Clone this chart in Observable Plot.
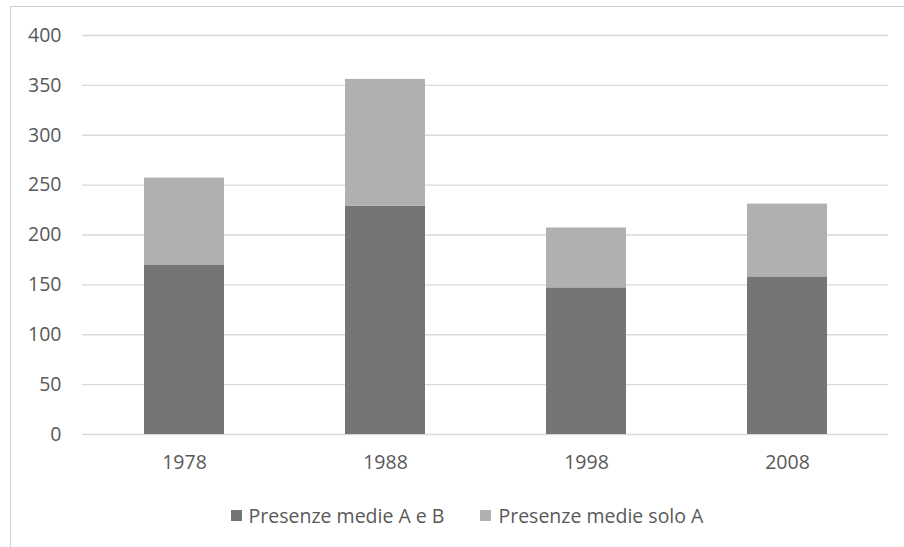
<!DOCTYPE html>
<html>
<head>
<meta charset="utf-8">
<script src="https://cdn.jsdelivr.net/npm/d3@7"></script>
<script src="https://cdn.jsdelivr.net/npm/@observablehq/plot@0.6"></script>
<style>
  html, body { margin: 0; padding: 0; background: #fff; width: 904px; height: 547px; overflow: hidden; }
  #frame { position: absolute; left: 10px; top: 6px; width: 1000px; height: 700px;
           border-left: 1.5px solid #cfcfcf; border-top: 1.5px solid #cfcfcf; }
  #chart { position: absolute; left: 0; top: 0; }
  #legend { position: absolute; left: 0; top: 502px; width: 904px; display: flex; justify-content: center;
            font-family: "Open Sans", sans-serif; font-size: 19.5px; color: #595959; padding-left: 30px; box-sizing: border-box; }
  .item { display: flex; align-items: center; margin: 0 18px; }
  .sw { width: 11px; height: 11px; margin-right: 7px; }
</style>
</head>
<body>
<div id="frame"></div>
<div id="chart"></div>
<div id="legend"></div>
<script>
const years = ["1978", "1988", "1998", "2008"];
const seriesNames = ["Presenze medie A e B", "Presenze medie solo A"];
const valuesAB = [170, 229, 147, 158];
const valuesSoloA = [87, 127, 60, 73];
const yTicks = [0, 50, 100, 150, 200, 250, 300, 350, 400];
const colors = ["#757575", "#b0b0b0"];

const data = years.flatMap((year, i) => [
  {year, serie: seriesNames[0], value: valuesAB[i]},
  {year, serie: seriesNames[1], value: valuesSoloA[i]}
]);

const chart = Plot.plot({
  width: 904,
  height: 495,
  marginTop: 35,
  marginBottom: 61,
  marginLeft: 82,
  marginRight: 16,
  style: {fontFamily: "Open Sans, sans-serif", fontSize: "19.5px", color: "#595959", background: "transparent"},
  x: {domain: years, paddingInner: 0.603, paddingOuter: 0.3015, label: null},
  y: {domain: [0, 400], label: null},
  color: {domain: seriesNames, range: colors},
  marks: [
    Plot.ruleY(yTicks, {stroke: "#d9d9d9", strokeWidth: 1.3}),
    Plot.barY(data, {x: "year", y: "value", fill: "serie"}),
    Plot.axisY({ticks: yTicks, tickSize: 0, tickPadding: 21, label: null}),
    Plot.axisX({tickSize: 0, tickPadding: 21, label: null})
  ]
});
document.getElementById("chart").appendChild(chart);

const legend = document.getElementById("legend");
seriesNames.forEach((name, i) => {
  const item = document.createElement("div");
  item.className = "item";
  const sw = document.createElement("div");
  sw.className = "sw";
  sw.style.background = colors[i];
  const t = document.createElement("span");
  t.textContent = name;
  item.appendChild(sw);
  item.appendChild(t);
  legend.appendChild(item);
});
</script>
</body>
</html>
